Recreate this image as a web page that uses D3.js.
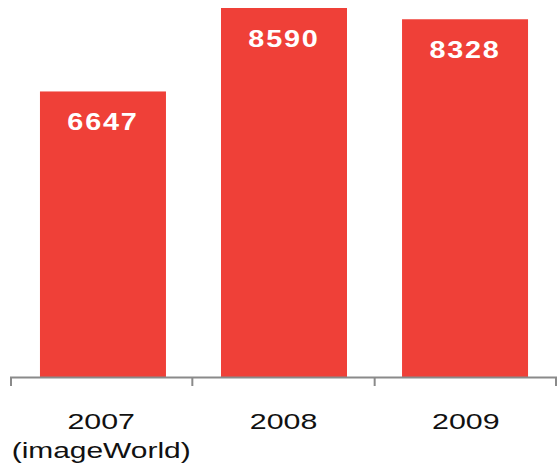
<!DOCTYPE html>
<html>
<head>
<meta charset="utf-8">
<script src="https://cdn.jsdelivr.net/npm/d3@7"></script>
<style>
  html, body { margin: 0; padding: 0; background: #fff; }
  svg { display: block; }
</style>
</head>
<body>
<svg id="chart" width="557" height="463"></svg>
<script>
const categories = ["2007", "2008", "2009"];
const subLabels = ["(imageWorld)", "", ""];
const values = [6647, 8590, 8328];

const W = 557, H = 463;
const baseY = 377, topY = 8;
const svg = d3.select("#chart");

const x = d3.scaleBand()
  .domain(categories)
  .range([11, 557])
  .paddingInner(0.304)
  .paddingOuter(0.16);

const y = d3.scaleLinear()
  .domain([0, d3.max(values)])
  .range([baseY, topY]);

const data = categories.map((c, i) => ({ cat: c, sub: subLabels[i], value: values[i] }));

// bars
svg.append("g").selectAll("rect")
  .data(data)
  .enter().append("rect")
  .attr("x", d => x(d.cat))
  .attr("y", d => y(d.value))
  .attr("width", x.bandwidth())
  .attr("height", d => baseY - y(d.value))
  .attr("fill", "#EF4038");

// value labels
const sx = 1.2;
svg.append("g").selectAll("text")
  .data(data)
  .enter().append("text")
  .attr("transform", d => `translate(${x(d.cat) + x.bandwidth() / 2},${y(d.value) + 38.5}) scale(${sx},1)`)
  .attr("text-anchor", "middle")
  .attr("font-family", "Liberation Sans, Arial, sans-serif")
  .attr("font-weight", "bold")
  .attr("font-size", 24)
  .attr("letter-spacing", 1.5)
  .attr("fill", "#fff")
  .text(d => d.value);

// axis
const r = x.range();
const axisG = svg.append("g");
axisG.append("line")
  .attr("x1", 10).attr("x2", r[1])
  .attr("y1", baseY + 0.5).attr("y2", baseY + 0.5)
  .attr("stroke", "#8a8a8a").attr("stroke-width", 2);
const tickXs = d3.range(categories.length + 1).map(i => Math.min(Math.max(10 + i * ((r[1] - 10) / categories.length), 11), 556));
axisG.selectAll("line.tick")
  .data(tickXs)
  .enter().append("line")
  .attr("class", "tick")
  .attr("x1", d => d).attr("x2", d => d)
  .attr("y1", baseY).attr("y2", baseY + 9)
  .attr("stroke", "#8a8a8a").attr("stroke-width", 2);

// category labels
const labelCenters = categories.map((c, i) => 10 + (i + 0.5) * ((r[1] - 10) / categories.length));
const lab = svg.append("g").selectAll("g")
  .data(data)
  .enter().append("g")
  .attr("transform", (d, i) => `translate(${labelCenters[i]},0)`);
lab.append("text")
  .attr("transform", `translate(0,429) scale(1.38,1)`)
  .attr("text-anchor", "middle")
  .attr("font-family", "Liberation Sans, Arial, sans-serif")
  .attr("font-size", 22)
  .attr("fill", "#111")
  .text(d => d.cat);
lab.append("text")
  .attr("transform", `translate(0,458) scale(1.36,1)`)
  .attr("text-anchor", "middle")
  .attr("font-family", "Liberation Sans, Arial, sans-serif")
  .attr("font-size", 22)
  .attr("fill", "#111")
  .text(d => d.sub);
</script>
</body>
</html>
